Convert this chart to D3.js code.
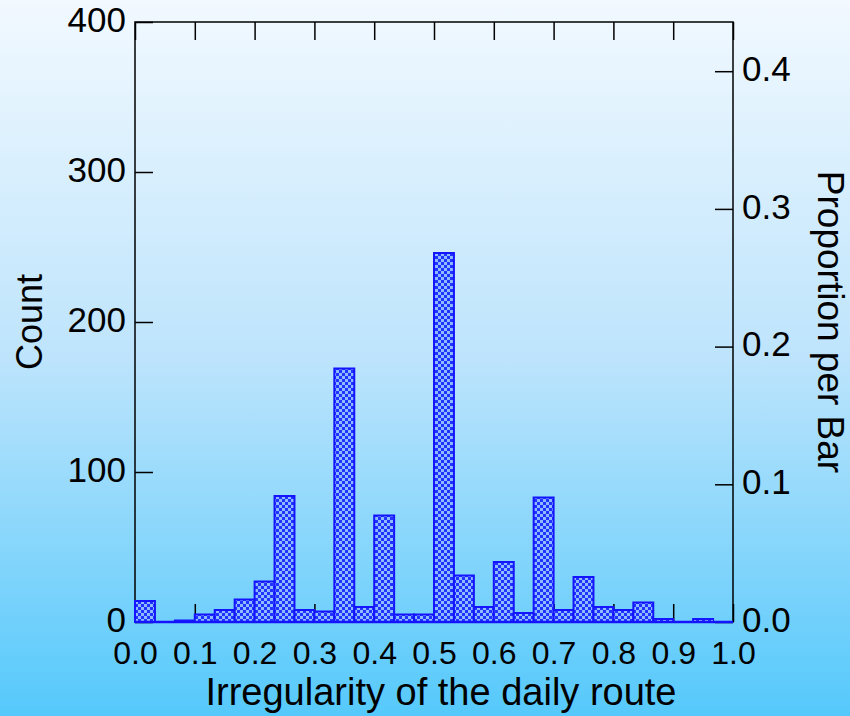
<!DOCTYPE html>
<meta charset="utf-8">
<head>
<style>
  body { margin: 0; }
  svg { display: block; font-family: "Liberation Sans", sans-serif; }
  .axis path, .axis line { stroke: #000; stroke-width: 1.5px; }
  .axis text { font-size: 35px; fill: #000; }
  .xaxis text { font-size: 32px; }
  .label { font-size: 36px; fill: #000; }
</style>
</head>
<body>
<div id="graph"></div>
<script src="https://d3js.org/d3.v7.min.js"></script>
<script>

// histogram of route irregularity, 30 bins over [0, 1]
var binStarts = d3.range(30).map(function(i){ return i / 30; });
var counts = [14, 0, 1, 5, 8, 15, 27, 84, 8, 7,
              169, 10, 71, 5, 5, 246, 31, 10, 40, 6,
              83, 8, 30, 10, 8, 13, 2, 0, 2, 0];
var xTicks = [0, 0.1, 0.2, 0.3, 0.4, 0.5, 0.6, 0.7, 0.8, 0.9, 1.0];
var countTicks = [0, 100, 200, 300, 400];
var propTicks = [0, 0.1, 0.2, 0.3, 0.4];

var W = 850, H = 716;
var margin = {top: 22, right: 117, bottom: 94, left: 135},
    width = W - margin.left - margin.right,
    height = H - margin.top - margin.bottom;

var total = d3.sum(counts);

var SVG = d3.select("#graph").append("svg")
  .attr("width", W)
  .attr("height", H);

var defs = SVG.append("defs");
var grad = defs.append("linearGradient")
  .attr("id", "bg").attr("x1", 0).attr("y1", 0).attr("x2", 0).attr("y2", 1);
grad.append("stop").attr("offset", "0%").attr("stop-color", "#f2f9ff");
grad.append("stop").attr("offset", "50%").attr("stop-color", "#bde4fc");
grad.append("stop").attr("offset", "100%").attr("stop-color", "#55c9fb");

var pat = defs.append("pattern")
  .attr("id", "hatch")
  .attr("patternUnits", "userSpaceOnUse")
  .attr("width", 6).attr("height", 6);
pat.append("rect").attr("width", 6).attr("height", 6).attr("fill", "#8cbcff");
pat.append("rect").attr("width", 3).attr("height", 3).attr("fill", "#2233ff");
pat.append("rect").attr("x", 3).attr("y", 3).attr("width", 3).attr("height", 3).attr("fill", "#2233ff");

SVG.append("rect").attr("width", W).attr("height", H).attr("fill", "url(#bg)");

var svg = SVG.append("g").attr("transform", "translate(" + margin.left + "," + margin.top + ")");

var x = d3.scaleLinear().domain([0, 1]).range([0, width]);
var y = d3.scaleLinear().domain([0, 400]).range([height, 0]);
var yp = d3.scaleLinear().domain([0, 400 / total]).range([height, 0]);

// frame
svg.append("rect")
  .attr("width", width).attr("height", height)
  .attr("fill", "none").attr("stroke", "#000").attr("stroke-width", 1.5);

// bottom axis with inner ticks
var xAxis = d3.axisBottom(x).tickValues(xTicks).tickSizeInner(-18).tickSizeOuter(0)
  .tickPadding(19).tickFormat(d3.format(".1f"));
svg.append("g").attr("class", "axis xaxis")
  .attr("transform", "translate(0," + height + ")")
  .call(xAxis);

// top ticks
var xTop = d3.axisTop(x).tickValues(xTicks).tickSizeInner(-18).tickSizeOuter(0).tickFormat("");
svg.append("g").attr("class", "axis").call(xTop);

var yAxis = d3.axisLeft(y).tickValues(countTicks).tickSizeInner(-18).tickSizeOuter(0).tickPadding(9);
svg.append("g").attr("class", "axis yaxis").call(yAxis);

var yAxisR = d3.axisRight(yp).tickValues(propTicks).tickSizeInner(-18).tickSizeOuter(0)
  .tickPadding(9).tickFormat(d3.format(".1f"));
svg.append("g").attr("class", "axis yaxis")
  .attr("transform", "translate(" + width + ",0)")
  .call(yAxisR);

svg.selectAll(".axis .domain").remove();
svg.selectAll(".yaxis text").attr("dy", "0.26em");

// bars
svg.selectAll(".bar")
  .data(counts)
  .enter().append("rect")
  .attr("class", "bar")
  .attr("x", function(d, i){ return x(binStarts[i]); })
  .attr("width", function(d, i){ return x(binStarts[i] + 1 / 30) - x(binStarts[i]); })
  .attr("y", function(d){ return y(d); })
  .attr("height", function(d){ return y(0) - y(d); })
  .attr("fill", "url(#hatch)")
  .attr("stroke", "#1414ff")
  .attr("stroke-width", 2);

// blue baseline under all bins (empty bins too)
svg.append("line")
  .attr("x1", x(0)).attr("x2", x(1))
  .attr("y1", y(0)).attr("y2", y(0))
  .attr("stroke", "#1414ff").attr("stroke-width", 2.5);

// titles
svg.append("text").attr("class", "label")
  .attr("x", width / 2 + 7).attr("y", height + 83)
  .style("font-size", "38px")
  .attr("text-anchor", "middle")
  .text("Irregularity of the daily route");

svg.append("text").attr("class", "label")
  .attr("transform", "translate(" + (-93) + "," + (height / 2) + ") rotate(-90)")
  .attr("text-anchor", "middle")
  .text("Count");

svg.append("text").attr("class", "label")
  .attr("transform", "translate(" + (width + 85) + "," + (height / 2) + ") rotate(90)")
  .style("font-size", "37px")
  .attr("text-anchor", "middle")
  .text("Proportion per Bar");

</script>
</body>
